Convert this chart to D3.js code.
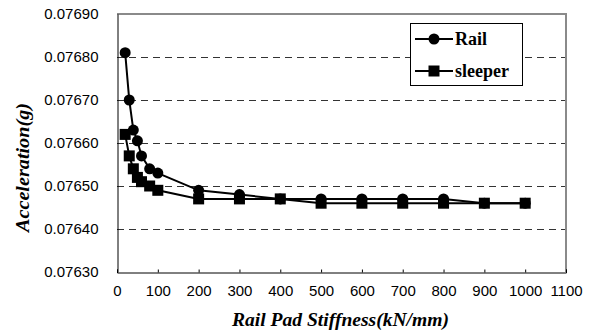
<!DOCTYPE html>
<html>
<head>
<meta charset="utf-8">
<script src="https://cdn.jsdelivr.net/npm/d3@7"></script>
<style>
  html, body { margin: 0; padding: 0; background: #fff; }
  svg { display: block; }
  .serif { font-family: "Liberation Serif", "Times New Roman", serif; font-weight: bold; }
  .sans { font-family: "Liberation Sans", Arial, sans-serif; }
</style>
</head>
<body>
<script>
// ---- data ----
const stiffness = [20, 30, 40, 50, 60, 80, 100, 200, 300, 400, 500, 600, 700, 800, 900, 1000];
const railValues = [0.07681, 0.07670, 0.07663, 0.076605, 0.07657, 0.07654, 0.07653, 0.07649, 0.07648, 0.07647, 0.07647, 0.07647, 0.07647, 0.07647, 0.07646, 0.07646];
const sleeperValues = [0.07662, 0.07657, 0.07654, 0.07652, 0.07651, 0.07650, 0.07649, 0.07647, 0.07647, 0.07647, 0.07646, 0.07646, 0.07646, 0.07646, 0.07646, 0.07646];
const yTicks = [0.0763, 0.0764, 0.0765, 0.0766, 0.0767, 0.0768, 0.0769];
const xTicks = [0, 100, 200, 300, 400, 500, 600, 700, 800, 900, 1000, 1100];
const seriesNames = ["Rail", "sleeper"];
const xTitle = "Rail Pad Stiffness(kN/mm)";
const yTitle = "Acceleration(g)";

const W = 594, H = 336;
const m = { left: 117, top: 14, right: 566, bottom: 272 };

const svg = d3.select("body").append("svg").attr("width", W).attr("height", H);

const x = d3.scaleLinear().domain([0, 1100]).range([m.left, m.right]);
const y = d3.scaleLinear().domain([0.0763, 0.0769]).range([m.bottom, m.top]);

// gridlines
svg.append("g").selectAll("line")
  .data(yTicks.filter(t => t > 0.07631 && t < 0.07689))
  .join("line")
  .attr("x1", m.left).attr("x2", m.right)
  .attr("y1", d => Math.round(y(d)) + 0.5).attr("y2", d => Math.round(y(d)) + 0.5)
  .attr("stroke", "#333").attr("stroke-width", 1).attr("stroke-dasharray", "7,5");

// plot border: top/right gray, left/bottom black
svg.append("line").attr("x1", m.left).attr("x2", m.right + 1).attr("y1", m.top).attr("y2", m.top)
  .attr("stroke", "#8a8a8a").attr("stroke-width", 2);
svg.append("line").attr("x1", m.right).attr("x2", m.right).attr("y1", m.top).attr("y2", m.bottom)
  .attr("stroke", "#8a8a8a").attr("stroke-width", 2);

// axes
const xAxis = d3.axisBottom(x).tickValues(xTicks).tickSize(-3).tickPadding(13).tickFormat(d3.format("d"));
const gx = svg.append("g").attr("transform", `translate(0,${m.bottom + 0.5})`).call(xAxis);
gx.attr("font-family", null).attr("font-size", null);
gx.select(".domain").attr("stroke", "#000");
gx.selectAll(".tick line").attr("stroke", "#000");
gx.selectAll("text").attr("class", "sans").attr("font-size", 15)
  .attr("fill", "#000").attr("dy", "0.32em").attr("y", 19);

const yAxis = d3.axisLeft(y).tickValues(yTicks).tickSize(0).tickPadding(19).tickFormat(d3.format(".5f"));
const gy = svg.append("g").attr("transform", `translate(${m.left + 0.5},0)`).call(yAxis);
gy.attr("font-family", null).attr("font-size", null);
gy.select(".domain").attr("stroke", "#000");
gy.selectAll("text").attr("class", "sans").attr("font-size", 15).attr("fill", "#000");

// lines & markers
const data = [railValues, sleeperValues].map(vals => stiffness.map((s, i) => ({ s, v: vals[i] })));
const line = d3.line().x(d => x(d.s)).y(d => y(d.v));

data.forEach(pts => {
  svg.append("path").datum(pts).attr("d", line)
    .attr("fill", "none").attr("stroke", "#000").attr("stroke-width", 2);
});
svg.append("g").selectAll("circle").data(data[0]).join("circle")
  .attr("cx", d => x(d.s)).attr("cy", d => y(d.v)).attr("r", 5.5).attr("fill", "#000");
svg.append("g").selectAll("rect").data(data[1]).join("rect")
  .attr("x", d => x(d.s) - 5.5).attr("y", d => y(d.v) - 5.5)
  .attr("width", 11).attr("height", 11).attr("fill", "#000");

// legend
const lg = svg.append("g");
lg.append("rect").attr("x", 410.5).attr("y", 23.5).attr("width", 112).attr("height", 62)
  .attr("fill", "#fff").attr("stroke", "#000").attr("stroke-width", 1);
const legY = [39, 71];
seriesNames.forEach((name, i) => {
  lg.append("line").attr("x1", 415).attr("x2", 453).attr("y1", legY[i]).attr("y2", legY[i])
    .attr("stroke", "#000").attr("stroke-width", 2);
  if (i === 0) {
    lg.append("circle").attr("cx", 434).attr("cy", legY[i]).attr("r", 5.5).attr("fill", "#000");
  } else {
    lg.append("rect").attr("x", 428.5).attr("y", legY[i] - 5.5).attr("width", 11).attr("height", 11).attr("fill", "#000");
  }
  lg.append("text").attr("class", "serif").attr("x", 455).attr("y", legY[i]).attr("dy", "0.35em")
    .attr("font-size", 18).text(name);
});

// axis titles
svg.append("text").attr("class", "serif").attr("x", 232).attr("y", 326)
  .attr("font-style", "italic").attr("font-size", 18)
  .attr("textLength", 217).attr("lengthAdjust", "spacingAndGlyphs").text(xTitle);

svg.append("text").attr("class", "serif").attr("transform", "translate(29,232) rotate(-90)")
  .attr("font-style", "italic").attr("font-size", 18)
  .attr("textLength", 129).attr("lengthAdjust", "spacingAndGlyphs").text(yTitle);
</script>
</body>
</html>
